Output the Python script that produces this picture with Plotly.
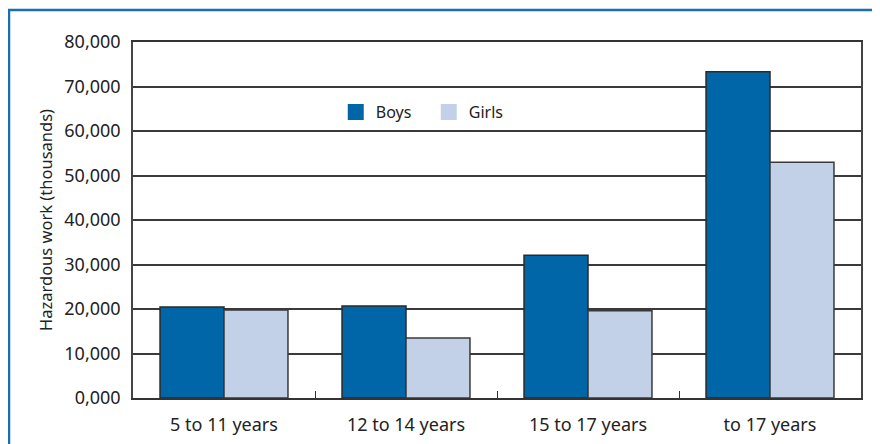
import plotly.graph_objects as go

categories = ["5 to 11 years", "12 to 14 years", "15 to 17 years", "to 17 years"]
boys = [20450, 20700, 32100, 73300]
girls = [19800, 13500, 19600, 53000]
tick_vals = [0, 10000, 20000, 30000, 40000, 50000, 60000, 70000, 80000]
tick_text = ["0,000", "10,000", "20,000", "30,000", "40,000", "50,000", "60,000", "70,000", "80,000"]

BOYS_COLOR = "#0066a8"
GIRLS_COLOR = "#c2d1e7"
FONT = "Noto Sans"

# page has an 8px body margin: figure is 872x436 placed at (8,8)
W, H = 872, 436
L, T, R, B = 125, 34, 19, 46
PW, PH = W - L - R, H - T - B

fig = go.Figure()
fig.add_trace(go.Bar(x=categories, y=boys, name="Boys", showlegend=False,
                     marker=dict(color=BOYS_COLOR, line=dict(color="#2a2a2a", width=1.5))))
fig.add_trace(go.Bar(x=categories, y=girls, name="Girls", showlegend=False,
                     marker=dict(color=GIRLS_COLOR, line=dict(color="#3a3a3a", width=1.5))))
# legend entries (square swatches without outline)
for nm, col in [("Boys", BOYS_COLOR), ("Girls", GIRLS_COLOR)]:
    fig.add_trace(go.Scatter(x=[None], y=[None], mode="markers", name=nm,
                             marker=dict(symbol="square", size=17, color=col,
                                         line=dict(width=0))))

fig.update_layout(
    width=W, height=H,
    margin=dict(l=L, r=R, t=T, b=B, autoexpand=False),
    paper_bgcolor="white", plot_bgcolor="white",
    barmode="group", bargap=0.297, bargroupgap=0,
    font=dict(family=FONT, color="#222", size=18),
    legend=dict(orientation="h", x=0.2785, y=1 - (104 - T) / PH, xanchor="left", yanchor="middle",
                font=dict(size=16, family=FONT, color="#222"), bgcolor="rgba(0,0,0,0)",
                itemsizing="trace", entrywidth=48, entrywidthmode="pixels"),
    xaxis=dict(type="category", showline=True, linecolor="#333", linewidth=1.5,
               mirror=True, ticks="inside", tickson="boundaries", ticklen=7,
               tickcolor="#333", tickwidth=1, showgrid=False, ticklabelstandoff=10,
               automargin=False,
               tickfont=dict(size=18, family=FONT, color="#222")),
    yaxis=dict(range=[0, 80000], tickvals=tick_vals, ticktext=tick_text,
               showline=True, linecolor="#444", linewidth=1.5, mirror=True,
               showgrid=True, gridcolor="#3a3a3a", gridwidth=1.5, zeroline=False,
               ticks="", ticklabelstandoff=7, automargin=False,
               tickfont=dict(size=18, family=FONT, color="#222"),
               title=dict(text="Hazardous work (thousands)", standoff=8,
                          font=dict(size=16.5, family=FONT, color="#222"))),
    shapes=[
        dict(type="line", xref="paper", yref="paper", x0=-L / PW, x1=(W - L) / PW,
             y0=(H - B - 2) / PH, y1=(H - B - 2) / PH, line=dict(color="#1a6fb0", width=2.5)),
        dict(type="line", xref="paper", yref="paper", x0=(-L + 1) / PW, x1=(-L + 1) / PW,
             y0=(H - B - 2) / PH, y1=-B / PH, line=dict(color="#1a6fb0", width=2.5)),
    ],
)

fig.write_html("out.html")
